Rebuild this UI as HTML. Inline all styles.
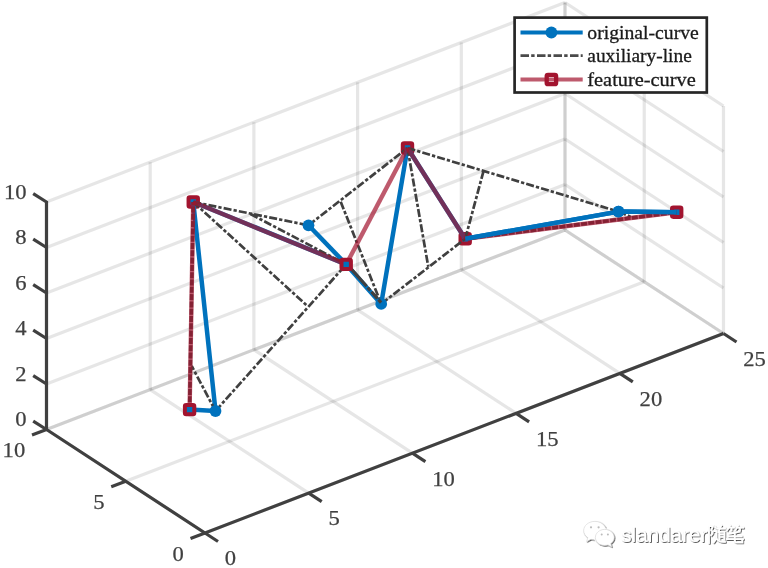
<!DOCTYPE html>
<html><head><meta charset="utf-8"><title>curve</title>
<style>html,body{margin:0;padding:0;background:#fff;}svg{display:block;will-change:transform;}text{font-family:"Liberation Serif",serif;}</style>
</head><body>
<svg width="768" height="568" viewBox="0 0 768 568">
<rect width="768" height="568" fill="#fff"/>
<g stroke="#262626" stroke-opacity="0.115" stroke-width="3.2" fill="none">
<line x1="46.5" y1="429.5" x2="46.5" y2="202"/>
<line x1="150.2" y1="389.6" x2="150.2" y2="162.1"/>
<line x1="253.9" y1="349.7" x2="253.9" y2="122.2"/>
<line x1="357.6" y1="309.8" x2="357.6" y2="82.3"/>
<line x1="461.3" y1="269.9" x2="461.3" y2="42.4"/>
<line x1="565" y1="230" x2="565" y2="2.5"/>
<line x1="46.5" y1="429.5" x2="565" y2="230"/>
<line x1="46.5" y1="384" x2="565" y2="184.5"/>
<line x1="46.5" y1="338.5" x2="565" y2="139"/>
<line x1="46.5" y1="293" x2="565" y2="93.5"/>
<line x1="46.5" y1="247.5" x2="565" y2="48"/>
<line x1="46.5" y1="202" x2="565" y2="2.5"/>
<line x1="723.5" y1="333.5" x2="723.5" y2="106"/>
<line x1="644.25" y1="281.75" x2="644.25" y2="54.25"/>
<line x1="565" y1="230" x2="565" y2="2.5"/>
<line x1="723.5" y1="333.5" x2="565" y2="230"/>
<line x1="723.5" y1="288" x2="565" y2="184.5"/>
<line x1="723.5" y1="242.5" x2="565" y2="139"/>
<line x1="723.5" y1="197" x2="565" y2="93.5"/>
<line x1="723.5" y1="151.5" x2="565" y2="48"/>
<line x1="723.5" y1="106" x2="565" y2="2.5"/>
<line x1="205" y1="533" x2="46.5" y2="429.5"/>
<line x1="308.7" y1="493.1" x2="150.2" y2="389.6"/>
<line x1="412.4" y1="453.2" x2="253.9" y2="349.7"/>
<line x1="516.1" y1="413.3" x2="357.6" y2="309.8"/>
<line x1="619.8" y1="373.4" x2="461.3" y2="269.9"/>
<line x1="723.5" y1="333.5" x2="565" y2="230"/>
<line x1="205" y1="533" x2="723.5" y2="333.5"/>
<line x1="125.75" y1="481.25" x2="644.25" y2="281.75"/>
<line x1="46.5" y1="429.5" x2="565" y2="230"/>
</g>
<g stroke="#404040" stroke-width="3.2" fill="none" stroke-linecap="butt">
<polyline points="46.5,201 46.5,429.5 205,533 723.5,333.5" stroke-linejoin="miter"/>
<line x1="46.5" y1="429.5" x2="33.2" y2="421.2"/>
<line x1="46.5" y1="384" x2="33.2" y2="375.7"/>
<line x1="46.5" y1="338.5" x2="33.2" y2="330.2"/>
<line x1="46.5" y1="293" x2="33.2" y2="284.7"/>
<line x1="46.5" y1="247.5" x2="33.2" y2="239.2"/>
<line x1="46.5" y1="202" x2="33.2" y2="193.7"/>
<line x1="205" y1="533" x2="190.5" y2="538.5"/>
<line x1="125.75" y1="481.25" x2="111.25" y2="486.75"/>
<line x1="46.5" y1="429.5" x2="32" y2="435"/>
<line x1="205" y1="533" x2="218" y2="541.5"/>
<line x1="308.7" y1="493.1" x2="321.7" y2="501.6"/>
<line x1="412.4" y1="453.2" x2="425.4" y2="461.7"/>
<line x1="516.1" y1="413.3" x2="529.1" y2="421.8"/>
<line x1="619.8" y1="373.4" x2="632.8" y2="381.9"/>
<line x1="723.5" y1="333.5" x2="736.5" y2="342"/>
</g>
<g fill="#404040" font-size="22" stroke="#404040" stroke-width="0.25">
<text x="26.6" y="426.2" text-anchor="end" textLength="11.3" lengthAdjust="spacingAndGlyphs">0</text>
<text x="26.6" y="380.7" text-anchor="end" textLength="11.3" lengthAdjust="spacingAndGlyphs">2</text>
<text x="26.6" y="335.2" text-anchor="end" textLength="11.3" lengthAdjust="spacingAndGlyphs">4</text>
<text x="26.6" y="289.7" text-anchor="end" textLength="11.3" lengthAdjust="spacingAndGlyphs">6</text>
<text x="26.6" y="244.2" text-anchor="end" textLength="11.3" lengthAdjust="spacingAndGlyphs">8</text>
<text x="26.6" y="198.7" text-anchor="end" textLength="22.6" lengthAdjust="spacingAndGlyphs">10</text>
<text x="183.7" y="560.7" text-anchor="end" textLength="11.3" lengthAdjust="spacingAndGlyphs">0</text>
<text x="104.45" y="508.95" text-anchor="end" textLength="11.3" lengthAdjust="spacingAndGlyphs">5</text>
<text x="25.2" y="457.2" text-anchor="end" textLength="22.6" lengthAdjust="spacingAndGlyphs">10</text>
<text x="224.8" y="565.3" textLength="11.3" lengthAdjust="spacingAndGlyphs">0</text>
<text x="328.5" y="525.4" textLength="11.3" lengthAdjust="spacingAndGlyphs">5</text>
<text x="432.2" y="485.5" textLength="22.6" lengthAdjust="spacingAndGlyphs">10</text>
<text x="535.9" y="445.6" textLength="22.6" lengthAdjust="spacingAndGlyphs">15</text>
<text x="639.6" y="405.7" textLength="22.6" lengthAdjust="spacingAndGlyphs">20</text>
<text x="743.3" y="365.8" textLength="22.6" lengthAdjust="spacingAndGlyphs">25</text>
</g>
<rect x="189.75" y="198.5" width="7" height="7" fill="#0072BD"/>
<rect x="188.55" y="197.3" width="9.4" height="9.4" rx="1.3" fill="none" stroke="#A2142F" stroke-width="4" stroke-linejoin="round"/>
<rect x="404" y="144.5" width="7" height="7" fill="#0072BD"/>
<rect x="402.8" y="143.3" width="9.4" height="9.4" rx="1.3" fill="none" stroke="#A2142F" stroke-width="4" stroke-linejoin="round"/>
<rect x="461.7" y="235.3" width="7" height="7" fill="#0072BD"/>
<rect x="460.5" y="234.1" width="9.4" height="9.4" rx="1.3" fill="none" stroke="#A2142F" stroke-width="4" stroke-linejoin="round"/>
<rect x="673.2" y="208.7" width="7" height="7" fill="#0072BD"/>
<rect x="672" y="207.5" width="9.4" height="9.4" rx="1.3" fill="none" stroke="#A2142F" stroke-width="4" stroke-linejoin="round"/>
<g stroke="#0072BD" stroke-width="4.5" fill="none" stroke-linecap="butt" stroke-linejoin="round">
<polyline points="189.6,409.6 215.5,411 193.25,202 346.2,264.4 381.2,303.9 407.5,148 465.2,238.8 618.5,211.6 676.7,212.2"/>
<line x1="308.5" y1="225.3" x2="346.2" y2="264.4"/>
</g>
<g stroke="#404040" stroke-width="2.7" fill="none" stroke-dasharray="8 2.1 3.3 2.1">
<line x1="215.5" y1="411" x2="191.7" y2="366"/>
<line x1="215.5" y1="411" x2="346.2" y2="264.4"/>
<line x1="193.25" y1="202" x2="307.4" y2="306"/>
<line x1="193.25" y1="202" x2="308.5" y2="225.3"/>
<line x1="250.5" y1="214" x2="346.2" y2="264.4"/>
<line x1="308.5" y1="225.3" x2="407.5" y2="148"/>
<line x1="340.7" y1="201.7" x2="381.2" y2="303.9"/>
<line x1="381.2" y1="303.9" x2="465.2" y2="238.8"/>
<line x1="407.5" y1="148" x2="428.3" y2="266.8"/>
<line x1="407.5" y1="148" x2="618.5" y2="211.6"/>
<line x1="483.5" y1="171.2" x2="465.2" y2="238.8"/>
<line x1="618.5" y1="211.6" x2="632.5" y2="217.6"/>
<line x1="189.6" y1="409.6" x2="193.25" y2="202" stroke-width="3.6" stroke-dasharray="6 1.3"/>
<line x1="465.2" y1="238.8" x2="676.7" y2="212.2" stroke-width="3.6" stroke-dasharray="6 1.3"/>
<circle cx="215.5" cy="411" r="5.9" fill="#0072BD" stroke="none"/>
<circle cx="308.5" cy="225.3" r="5.9" fill="#0072BD" stroke="none"/>
<circle cx="381.2" cy="303.9" r="5.9" fill="#0072BD" stroke="none"/>
<circle cx="618.5" cy="211.6" r="5.9" fill="#0072BD" stroke="none"/>
<line x1="346.75" y1="263.85" x2="381.75" y2="303.35" stroke-dasharray="30 1.6 4 1.6 9 1.6 4 1.6" stroke-width="3.2"/>
</g>
<g stroke="#A2142F" stroke-opacity="0.7" stroke-width="4.4" fill="none" stroke-linecap="butt">
<line x1="189.6" y1="409.6" x2="193.25" y2="202"/>
<line x1="193.25" y1="202" x2="346.2" y2="264.4"/>
<line x1="346.2" y1="264.4" x2="407.5" y2="148"/>
<line x1="407.5" y1="148" x2="465.2" y2="238.8"/>
<line x1="465.2" y1="238.8" x2="676.7" y2="212.2"/>
</g>
<polyline points="465.2,238.8 618.5,211.6 676.7,212.2" stroke="#0072BD" stroke-width="4.5" fill="none" stroke-linejoin="round"/>
<circle cx="618.5" cy="211.6" r="5.9" fill="#0072BD" stroke="none"/>
<rect x="342.7" y="260.9" width="7" height="7" fill="#0072BD"/>
<rect x="341.5" y="259.7" width="9.4" height="9.4" rx="1.3" fill="none" stroke="#A2142F" stroke-width="4" stroke-linejoin="round"/>
<rect x="186.1" y="406.1" width="7" height="7" fill="#0072BD"/>
<rect x="184.9" y="404.9" width="9.4" height="9.4" rx="1.3" fill="none" stroke="#A2142F" stroke-width="4" stroke-linejoin="round"/>
<rect x="514.6" y="17.6" width="192.2" height="74.9" fill="#fff" stroke="#262626" stroke-width="2.7"/>
<line x1="520.5" y1="32.5" x2="582.7" y2="32.5" stroke="#0072BD" stroke-width="4"/>
<circle cx="551.4" cy="32.5" r="5.9" fill="#0072BD"/>
<line x1="520.5" y1="55.6" x2="582.7" y2="55.6" stroke="#4a4a4a" stroke-width="2.8" stroke-dasharray="8.5 2.2 3.4 2.4"/>
<line x1="520.5" y1="79.5" x2="582.7" y2="79.5" stroke="#A2142F" stroke-opacity="0.7" stroke-width="4.2"/>
<rect x="546.7" y="74.8" width="9.4" height="9.4" rx="1.3" fill="none" stroke="#A2142F" stroke-width="4.3" stroke-linejoin="round"/>
<g fill="#1a1a1a" font-size="19.5" stroke="#1a1a1a" stroke-width="0.3">
<text x="587.3" y="38.5" textLength="111.5" lengthAdjust="spacingAndGlyphs">original-curve</text>
<text x="587.3" y="62" textLength="104.5" lengthAdjust="spacingAndGlyphs">auxiliary-line</text>
<text x="587.3" y="85.6" textLength="108.5" lengthAdjust="spacingAndGlyphs">feature-curve</text>
</g>
<defs><filter id="ws" x="-10%" y="-20%" width="120%" height="150%"><feDropShadow dx="0.8" dy="0.8" stdDeviation="0.22" flood-color="#000" flood-opacity="0.8"/></filter></defs>
<g>
<g fill="#fff" stroke="#d0d0d0" stroke-width="0.5">
<path filter="url(#ws)" d="M594.9,521.4c-6.2,0-11.2,4.1-11.2,9.2c0,2.9,1.6,5.4,4.1,7.1l-1.2,3.9l4.3-2.3c1.2,0.3,2.6,0.5,4,0.5c6.2,0,11.2-4.1,11.2-9.2s-5-9.2-11.2-9.2z"/>
<path d="M604.8,528.2c-6,0-10.700,4.100-10.700,9.200c0,5,4.700,9.200,10.700,9.200c6,0,10.700-4.200,10.700-9.200c0-5.100-4.700-9.200-10.700-9.200z" stroke="none"/>
<path filter="url(#ws)" d="M604.8,529.4c-5.2,0-9.4,3.6-9.4,8c0,4.4,4.2,8,9.4,8c1.1,0,2.2-0.2,3.2-0.5l3.7,2l-1-3.3c2.1-1.5,3.5-3.700,3.500-6.200c0-4.400-4.200-8-9.400-8z"/>
</g>
<g fill="#bbb" stroke="none"><circle cx="591" cy="527.3" r="1.1"/><circle cx="598.6" cy="527.3" r="1.1"/><circle cx="601.7" cy="534.6" r="1"/><circle cx="607.9" cy="534.6" r="1"/></g>
<text filter="url(#ws)" x="621.3" y="541.7" font-size="20.5" fill="#fff" style="font-family:'Liberation Sans',sans-serif" textLength="86" lengthAdjust="spacingAndGlyphs">slandarer</text>
<g filter="url(#ws)" fill="none" stroke="#fff" stroke-width="1.7" stroke-linecap="square" transform="translate(707.8,525.2)">
<path d="M1.2,0.6V17.8M1.2,1H5.2L3.4,5Q6.4,7.200,3.400,10"/>
<path d="M7.200,1.800L8.200,2.800M6.300,6H8.700V13M5.800,17.200Q7.800,14.600,8.700,13.200Q11,17.200,17.200,16.600"/>
<path d="M9.500,3.400H17.200M13.400,0.500L10.400,7M11.600,6.600H16.600V14.600M11.600,6.600V14.200M11.600,9.200H16.600M11.600,11.800H16.600"/>
<g transform="translate(18.2,0)">
<path d="M4,0.500L1,5M3,2.500H8M5.500,2.500V5.200M12,0.500L9.500,5M11.500,2.500H17.200M14,2.500V5.200"/>
<path d="M13.500,6.400L3,8.600M2.500,11.200H15.500M1,14H17M8.800,7.800V15.200Q8.800,17.300,11.500,17.300H16.300V15"/>
</g></g></g>
</svg></body></html>
